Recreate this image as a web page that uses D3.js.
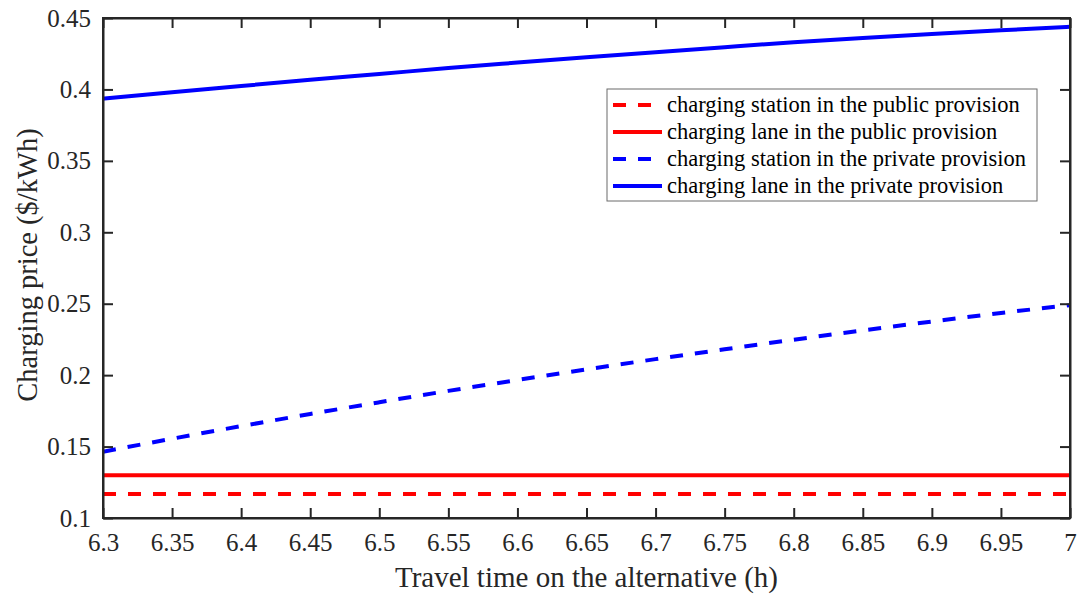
<!DOCTYPE html>
<html>
<head>
<meta charset="utf-8">
<script src="https://cdn.jsdelivr.net/npm/d3@7"></script>
<style>
  body { margin: 0; background: #fff; }
  svg { display: block; font-family: "Liberation Serif", "Times New Roman", serif; }
</style>
</head>
<body>
<svg id="chart"></svg>
<script>
// x values (travel time on the alternative, h)
var travelTime = [6.3, 6.35, 6.4, 6.45, 6.5, 6.55, 6.6, 6.65, 6.7, 6.75, 6.8, 6.85, 6.9, 6.95, 7.0];

// charging price ($/kWh) for each case
var stationPublic = [0.1168, 0.1168, 0.1168, 0.1168, 0.1168, 0.1168, 0.1168, 0.1168, 0.1168, 0.1168, 0.1168, 0.1168, 0.1168, 0.1168, 0.1168];
var lanePublic = [0.130, 0.130, 0.130, 0.130, 0.130, 0.130, 0.130, 0.130, 0.130, 0.130, 0.130, 0.130, 0.130, 0.130, 0.130];
var stationPrivate = [0.1464, 0.1555, 0.1643, 0.1728, 0.1810, 0.1890, 0.1966, 0.2040, 0.2112, 0.2181, 0.2248, 0.2313, 0.2375, 0.2435, 0.2490];
var lanePrivate = [0.3935, 0.3980, 0.4024, 0.4067, 0.4108, 0.4150, 0.4188, 0.4225, 0.4261, 0.4296, 0.4330, 0.4360, 0.4388, 0.4414, 0.4439];

var seriesNames = ["charging station in the public provision", "charging lane in the public provision",
  "charging station in the private provision", "charging lane in the private provision"];

var xTicks = [6.3, 6.35, 6.4, 6.45, 6.5, 6.55, 6.6, 6.65, 6.7, 6.75, 6.8, 6.85, 6.9, 6.95, 7];
var yTicks = [0.1, 0.15, 0.2, 0.25, 0.3, 0.35, 0.4, 0.45];

var width = 1081, height = 599;
var margin = {top: 18, right: 11, bottom: 81, left: 103};
var plotW = width - margin.left - margin.right;
var plotH = height - margin.top - margin.bottom;
var axisColor = "#262626";
var serif = "Liberation Serif, Times New Roman, serif";

var svg = d3.select("#chart")
  .attr("width", width)
  .attr("height", height);

var g = svg.append("g")
  .attr("transform", "translate(" + margin.left + "," + margin.top + ")");

var x = d3.scaleLinear().domain([6.3, 7]).range([0, plotW]);
var y = d3.scaleLinear().domain([0.1, 0.45]).range([plotH, 0]);

var series = [
  {name: seriesNames[0], values: stationPublic, color: "#ff0000", dash: "13,12"},
  {name: seriesNames[1], values: lanePublic, color: "#ff0000", dash: null},
  {name: seriesNames[2], values: stationPrivate, color: "#0000ff", dash: "13,12"},
  {name: seriesNames[3], values: lanePrivate, color: "#0000ff", dash: null}
];

var line = d3.line()
  .x(function(d) { return x(d[0]); })
  .y(function(d) { return y(d[1]); })
  .curve(d3.curveMonotoneX);

// clip so the thick lines stop at the box
g.append("clipPath").attr("id", "plotclip")
  .append("rect").attr("width", plotW).attr("height", plotH);

g.append("g").attr("clip-path", "url(#plotclip)")
  .selectAll("path")
  .data(series)
  .enter()
  .append("path")
  .attr("d", function(s) {
    return line(travelTime.map(function(t, i) { return [t, s.values[i]]; }));
  })
  .attr("fill", "none")
  .attr("stroke", function(s) { return s.color; })
  .attr("stroke-width", 4)
  .attr("stroke-dasharray", function(s) { return s.dash; });

// axes, ticks pointing inward like matlab
var tickLen = 10;
var fmt = function(d) { return String(+d.toFixed(2)); };

var xBottom = g.append("g").attr("transform", "translate(0," + plotH + ")")
  .call(d3.axisBottom(x).tickValues(xTicks).tickSizeInner(-tickLen).tickSizeOuter(0).tickPadding(15).tickFormat(fmt));
var xTop = g.append("g")
  .call(d3.axisTop(x).tickValues(xTicks).tickSizeInner(-tickLen).tickSizeOuter(0).tickFormat(""));
var yLeft = g.append("g")
  .call(d3.axisLeft(y).tickValues(yTicks).tickSizeInner(-tickLen).tickSizeOuter(0).tickPadding(12).tickFormat(fmt));
var yRight = g.append("g").attr("transform", "translate(" + plotW + ",0)")
  .call(d3.axisRight(y).tickValues(yTicks).tickSizeInner(-tickLen).tickSizeOuter(0).tickFormat(""));

[xBottom, xTop, yLeft, yRight].forEach(function(a) {
  a.attr("font-family", serif).attr("font-size", 25);
  a.select(".domain").attr("stroke", axisColor).attr("stroke-width", 2);
  a.selectAll(".tick line").attr("stroke", axisColor).attr("stroke-width", 2);
  a.selectAll("text").attr("fill", axisColor);
});

// box corners
g.append("rect")
  .attr("width", plotW).attr("height", plotH)
  .attr("fill", "none").attr("stroke", axisColor).attr("stroke-width", 2);

// axis titles
svg.append("text")
  .attr("x", margin.left + plotW / 2)
  .attr("y", 587)
  .attr("text-anchor", "middle")
  .attr("fill", axisColor)
  .style("font-size", "29px")
  .text("Travel time on the alternative (h)");

svg.append("text")
  .attr("transform", "translate(37,265) rotate(-90)")
  .attr("text-anchor", "middle")
  .attr("fill", axisColor)
  .style("font-size", "28.5px")
  .text("Charging price ($/kWh)");

// legend
var legend = svg.append("g").attr("transform", "translate(607,89)");
legend.append("rect")
  .attr("width", 430).attr("height", 112)
  .attr("fill", "#fff").attr("stroke", "#6b6b6b").attr("stroke-width", 1);

var rows = legend.selectAll(".row")
  .data(series)
  .enter()
  .append("g")
  .attr("class", "row")
  .attr("transform", function(d, i) { return "translate(0," + (16 + i * 27) + ")"; });

rows.append("line")
  .attr("x1", 6).attr("x2", 55)
  .attr("stroke", function(s) { return s.color; })
  .attr("stroke-width", 4)
  .attr("stroke-dasharray", function(s) { return s.dash; });

rows.append("text")
  .attr("x", 60)
  .attr("dy", "0.32em")
  .attr("fill", "#000")
  .style("font-size", "22.5px")
  .text(function(s) { return s.name; });
</script>
</body>
</html>
